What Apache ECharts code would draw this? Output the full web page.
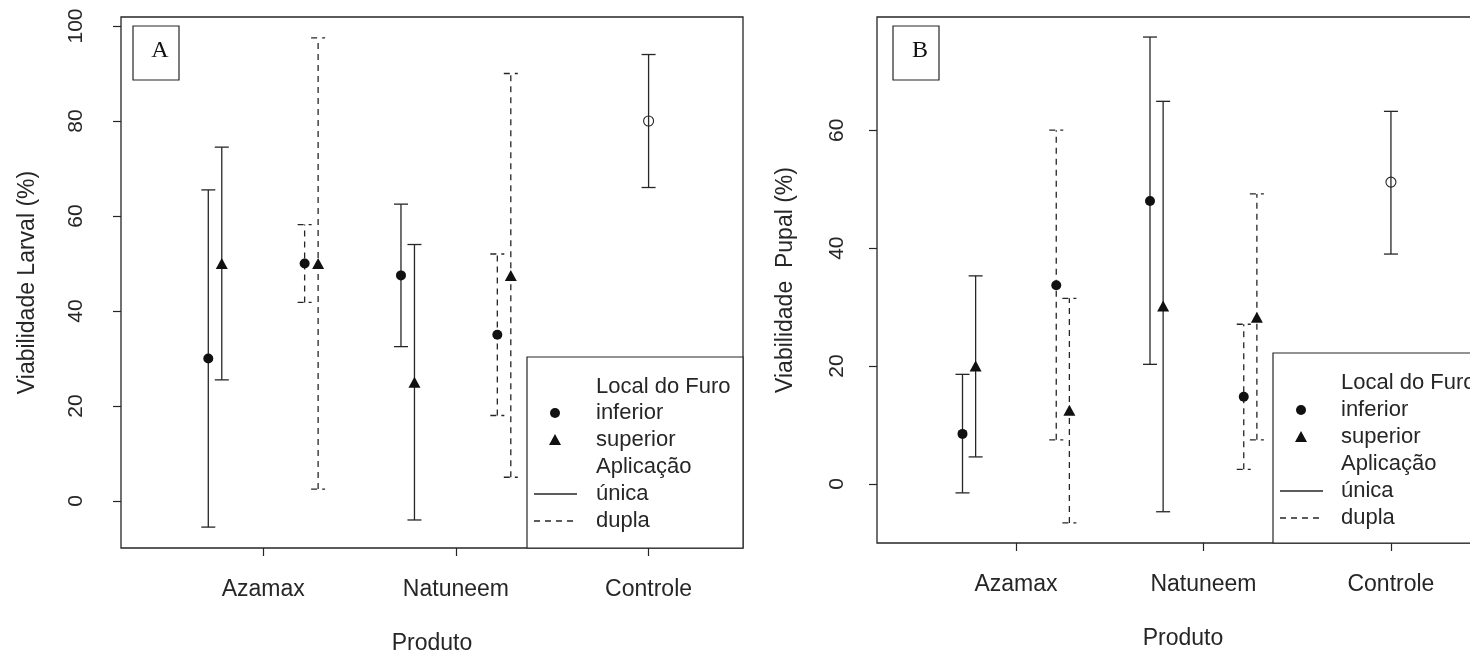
<!DOCTYPE html>
<html>
<head>
<meta charset="utf-8">
<script src="https://cdn.jsdelivr.net/npm/echarts@6/dist/echarts.min.js"></script>
<style>
html,body{margin:0;padding:0;background:#fff}
#main{width:1470px;height:656px}
</style>
</head>
<body>
<div id="main"></div>
<script>
// produtos no eixo x
var produtos = ['Azamax', 'Natuneem', 'Controle'];
// grupos (mesma ordem nas colunas abaixo)
var furo = ['inferior', 'superior', 'inferior', 'superior'];
var aplicacao = ['única', 'única', 'dupla', 'dupla'];

// A - viabilidade larval (%), uma linha por produto (Azamax, Natuneem)
var larvalMedia = [[30, 50, 50, 50], [47.5, 25, 35, 47.5]];
var larvalInf = [[-5.5, 25.5, 41.8, 2.5], [32.5, -4, 18, 5]];
var larvalSup = [[65.5, 74.5, 58.2, 97.5], [62.5, 54, 52, 90]];
var larvalControle = [80, 66, 94]; // media, inf, sup

// B - viabilidade pupal (%)
var pupalMedia = [[8.5, 20, 33.7, 12.5], [48, 30.2, 14.8, 28.3]];
var pupalInf = [[-1.5, 4.6, 7.5, -6.6], [20.3, -4.7, 2.5, 7.5]];
var pupalSup = [[18.6, 35.3, 60, 31.5], [75.8, 64.9, 27.1, 49.2]];
var pupalControle = [51.2, 39, 63.2];

var yTicksA = [0, 20, 40, 60, 80, 100];
var yTicksB = [0, 20, 40, 60];

var FONTE = 'Liberation Sans, Arial, sans-serif';
var COR = '#262626';
var desloc = [-0.285, -0.215, 0.215, 0.285];

function renderBar(params, api) {
	var x = api.value(0);
	var a = api.coord([x, api.value(1)]);
	var b = api.coord([x, api.value(2)]);
	var dash = api.value(3) ? [6, 5] : null;
	function st() { return {stroke: COR, lineWidth: 1.3, lineDash: dash}; }
	return {type: 'group', children: [
		{type: 'line', shape: {x1: a[0], y1: a[1], x2: b[0], y2: b[1]}, style: st()},
		{type: 'line', shape: {x1: a[0] - 7, y1: a[1], x2: a[0] + 7, y2: a[1]}, style: st()},
		{type: 'line', shape: {x1: b[0] - 7, y1: b[1], x2: b[0] + 7, y2: b[1]}, style: st()}
	]};
}

function painel(idx, media, inf, sup, ctrl) {
	var barras = [], pInf = [], pSup = [];
	for (var p = 0; p < media.length; p++) {
		for (var g = 0; g < 4; g++) {
			var x = p + 1 + desloc[g];
			barras.push([x, inf[p][g], sup[p][g], aplicacao[g] == 'dupla' ? 1 : 0]);
			if (furo[g] == 'inferior') pInf.push([x, media[p][g]]);
			else pSup.push([x, media[p][g]]);
		}
	}
	barras.push([3, ctrl[1], ctrl[2], 0]);
	return [
		{type: 'custom', xAxisIndex: idx, yAxisIndex: idx, renderItem: renderBar,
			encode: {x: 0, y: [1, 2]}, data: barras, z: 2, silent: true},
		{type: 'scatter', xAxisIndex: idx, yAxisIndex: idx, symbol: 'circle', symbolSize: 10,
			itemStyle: {color: '#111', opacity: 1}, data: pInf, z: 3},
		{type: 'scatter', xAxisIndex: idx, yAxisIndex: idx, symbol: 'triangle', symbolSize: [12, 11],
			itemStyle: {color: '#111', opacity: 1}, data: pSup, z: 3},
		{type: 'scatter', xAxisIndex: idx, yAxisIndex: idx, symbol: 'circle', symbolSize: 10,
			itemStyle: {color: 'rgba(0,0,0,0)', borderColor: COR, borderWidth: 1.1, opacity: 1},
			data: [[3, ctrl[0]]], z: 3}
	];
}

function eixoX(idx, min, max) {
	return {
		type: 'value', gridIndex: idx, min: min, max: max, position: 'bottom',
		splitLine: {show: false}, axisLine: {show: false, onZero: false},
		axisTick: {customValues: [1, 2, 3], length: 8, lineStyle: {color: COR, width: 1.2}},
		axisLabel: {customValues: [1, 2, 3], margin: 30, fontSize: 23, fontFamily: FONTE, color: COR,
			formatter: function (v) { return produtos[Math.round(v) - 1]; }},
		name: 'Produto', nameLocation: 'middle', nameGap: 84,
		nameTextStyle: {fontSize: 23, fontFamily: FONTE, color: COR}
	};
}

function eixoY(idx, min, max, ticks, nome, margem, gap) {
	return {
		type: 'value', gridIndex: idx, min: min, max: max, position: 'left',
		splitLine: {show: false}, axisLine: {show: false, onZero: false},
		axisTick: {customValues: ticks, length: 8, lineStyle: {color: COR, width: 1.2}},
		axisLabel: {customValues: ticks, rotate: 90, margin: margem, fontSize: 21, fontFamily: FONTE, color: COR},
		name: nome, nameLocation: 'middle', nameRotate: 90, nameGap: gap,
		nameTextStyle: {fontSize: 23, fontFamily: FONTE, color: COR}
	};
}

function legenda(x0, y0, w, h, tx, sx, ly) {
	var t = function (txt, y) {
		return {type: 'text', x: tx, y: y, style: {text: txt, font: '22px ' + FONTE, fill: COR, textVerticalAlign: 'middle'}};
	};
	return [
		{type: 'rect', shape: {x: x0, y: y0, width: w, height: h}, style: {fill: '#fff', stroke: COR, lineWidth: 1.2}},
		t('Local do Furo', ly[0]), t('inferior', ly[1]), t('superior', ly[2]),
		t('Aplicação', ly[3]), t('única', ly[4]), t('dupla', ly[5]),
		{type: 'circle', shape: {cx: sx, cy: ly[1], r: 5}, style: {fill: '#111'}},
		{type: 'polygon', shape: {points: [[sx - 6, ly[2] + 5], [sx + 6, ly[2] + 5], [sx, ly[2] - 6]]}, style: {fill: '#111'}},
		{type: 'line', shape: {x1: sx - 21, y1: ly[4], x2: sx + 22, y2: ly[4]}, style: {stroke: COR, lineWidth: 1.3}},
		{type: 'line', shape: {x1: sx - 21, y1: ly[5], x2: sx + 22, y2: ly[5]}, style: {stroke: COR, lineWidth: 1.3, lineDash: [6, 5]}}
	];
}

function rotulo(x, y, letra) {
	return [
		{type: 'rect', shape: {x: x, y: y, width: 46, height: 54}, style: {fill: '#fff', stroke: COR, lineWidth: 1.2}},
		{type: 'text', x: x + 27, y: y + 25, style: {text: letra, font: '24px Liberation Serif, serif', fill: '#111',
			textAlign: 'center', textVerticalAlign: 'middle'}}
	];
}

var chart = echarts.init(document.getElementById('main'));
var option = {
	animation: false,
	backgroundColor: '#fff',
	grid: [
		{left: 121, top: 17, width: 622, height: 531, show: true, borderColor: COR, borderWidth: 1.3,
			outerBoundsMode: 'none', containLabel: false},
		{left: 877, top: 17, width: 612, height: 526, show: true, borderColor: COR, borderWidth: 1.3,
			outerBoundsMode: 'none', containLabel: false}
	],
	xAxis: [eixoX(0, 0.262, 3.49), eixoX(1, 0.259, 3.523)],
	yAxis: [
		eixoY(0, -9.9, 101.9, yTicksA, 'Viabilidade Larval (%)', 34, 82),
		eixoY(1, -10, 79.2, yTicksB, 'Viabilidade  Pupal (%)', 29, 80)
	],
	series: painel(0, larvalMedia, larvalInf, larvalSup, larvalControle)
		.concat(painel(1, pupalMedia, pupalInf, pupalSup, pupalControle)),
	graphic: [].concat(
		legenda(527, 357, 216, 191, 596, 555, [387, 413, 440, 467, 494, 521]),
		legenda(1273, 353, 220, 190, 1341, 1301, [383, 410, 437, 464, 491, 518]),
		rotulo(133, 26, 'A'),
		rotulo(893, 26, 'B')
	)
};
chart.setOption(option);
</script>
</body>
</html>
